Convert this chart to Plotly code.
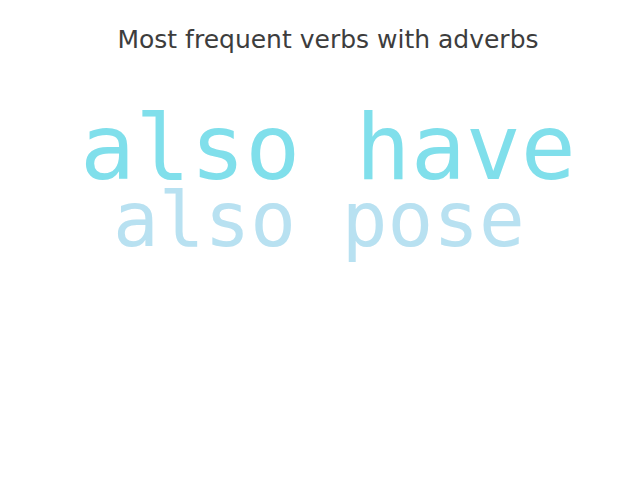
import plotly.graph_objects as go

# words and their frequency-based size / colour
words = ["also have", "also pose"]
x_pos = [0.50, 0.481]
y_pos = [0.84, 0.605]
sizes = [91.5, 76]
colors = ["#80dfeb", "#b8e1f1"]

fig = go.Figure()
fig.add_trace(go.Scatter(
    x=x_pos, y=y_pos, mode="text", text=words,
    textfont=dict(family="DejaVu Sans Mono", size=sizes, color=colors),
    hoverinfo="text", cliponaxis=False,
))

fig.update_layout(
    title=dict(text="Most frequent verbs with adverbs", x=0.5, xanchor="center",
               y=0.934, yanchor="middle",
               font=dict(family="DejaVu Sans", size=25, color="#3d3d3d")),
    width=640, height=480,
    xaxis=dict(visible=False, range=[0, 1]),
    yaxis=dict(visible=False, range=[0, 1]),
    plot_bgcolor="white", paper_bgcolor="white",
    showlegend=False,
)

fig.write_html("out.html")
